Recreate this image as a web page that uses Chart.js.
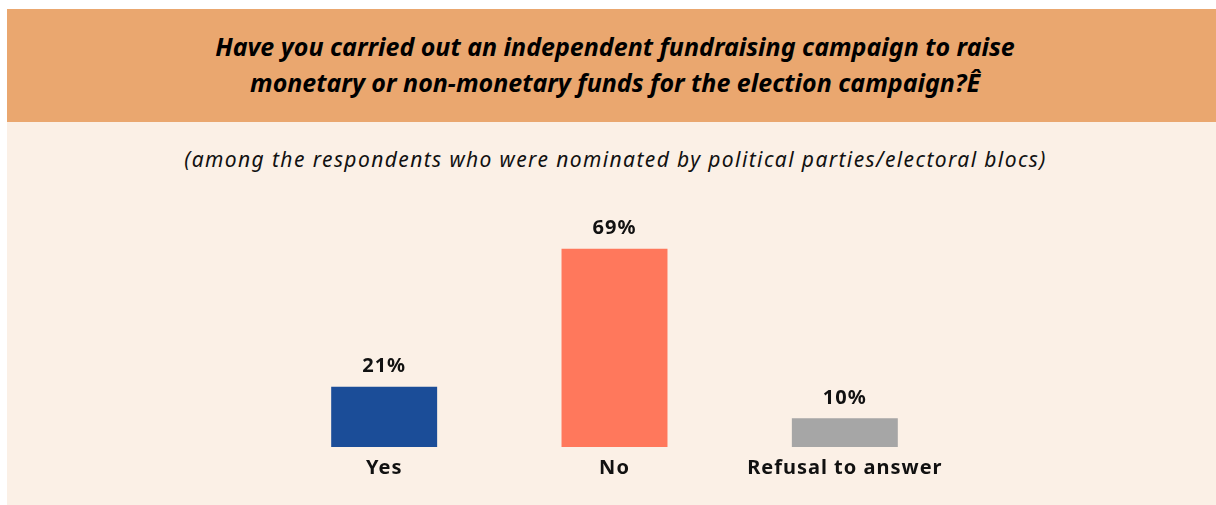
<!DOCTYPE html>
<html>
<head>
<meta charset="utf-8">
<script src="https://cdn.jsdelivr.net/npm/chart.js@4"></script>
<style>
  html, body { margin: 0; padding: 0; background: #ffffff; }
  #wrap { position: relative; width: 1216px; height: 505px; overflow: hidden; font-family: "Noto Sans", sans-serif; }
  #header { position: absolute; left: 7px; top: 9px; width: 1209px; height: 113px; background: #EAA76F; }
  #panel { position: absolute; left: 7px; top: 122px; width: 1209px; height: 383px; background: #FBF0E6; }
  #title { position: absolute; left: 0; width: 1230px; top: 28px; text-align: center; font-weight: bold; font-style: italic; font-size: 25px; line-height: 36px; color: #000; }
  #subtitle { position: absolute; left: 0; width: 1231px; top: 145px; text-align: center; font-style: italic; font-size: 21px; letter-spacing: 1.4px; color: #111; }
  #chartBox { position: absolute; left: 0; top: 0; width: 1216px; height: 505px; }
</style>
</head>
<body>
<div id="wrap">
  <div id="header"></div>
  <div id="panel"></div>
  <div id="title">Have you carried out an independent fundraising campaign to raise<br>monetary or non-monetary funds for the election campaign?Ê</div>
  <div id="subtitle">(among the respondents who were nominated by political parties/electoral blocs)</div>
  <div id="chartBox"><canvas id="answerChart"></canvas></div>
</div>
<script>
// Answers and shares (%)
const answerLabels = ["Yes", "No", "Refusal to answer"];
const answerShares = [21, 69, 10];
const answerColors = ["#1B4D98", "#FF785C", "#A6A6A6"];

const answerChartElement = document.getElementById("answerChart");

// draws the % above each bar and the category name under it
const barTextPlugin = {
  id: "barText",
  afterDatasetsDraw(chart) {
    const ctx = chart.ctx;
    const meta = chart.getDatasetMeta(0);
    const xScale = chart.scales.x;
    const yScale = chart.scales.y;
    ctx.save();
    ctx.fillStyle = "#111111";
    ctx.textAlign = "center";
    ctx.letterSpacing = "1px";
    meta.data.forEach((bar, i) => {
      ctx.font = "bold 20px 'Noto Sans'";
      ctx.textBaseline = "bottom";
      ctx.fillText(answerShares[i] + "%", bar.x, bar.y - 10);
      ctx.textBaseline = "top";
      ctx.fillText(answerLabels[i], xScale.getPixelForValue(i), yScale.getPixelForValue(0) + 11);
    });
    ctx.restore();
  },
};

new Chart(answerChartElement, {
  type: "bar",
  data: {
    labels: answerLabels,
    datasets: [
      {
        data: answerShares,
        backgroundColor: answerColors,
        borderWidth: 0,
        barPercentage: 0.46,
        categoryPercentage: 1,
      },
    ],
  },
  options: {
    responsive: true,
    maintainAspectRatio: false,
    animation: false,
    layout: {
      padding: { left: 269, right: 256, top: 217, bottom: 58 },
    },
    plugins: {
      legend: { display: false },
      tooltip: { enabled: false },
    },
    scales: {
      x: { display: false },
      y: { display: false, min: 0, max: 80 },
    },
  },
  plugins: [barTextPlugin],
});
</script>
</body>
</html>
